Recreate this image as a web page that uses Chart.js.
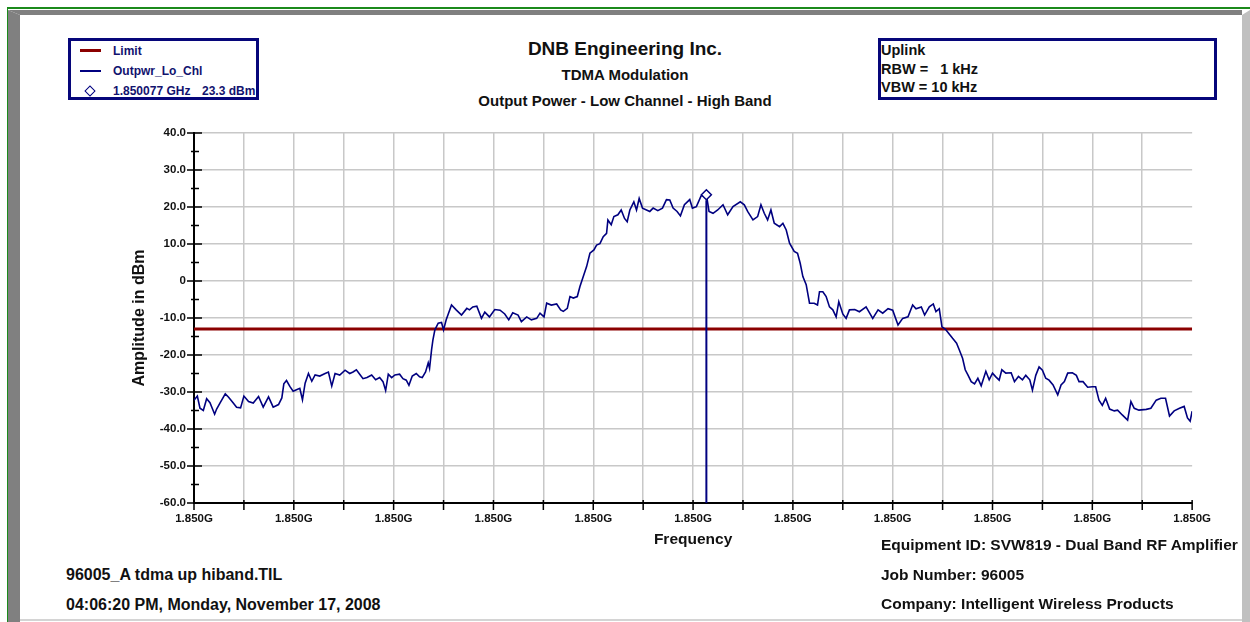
<!DOCTYPE html>
<html>
<head>
<meta charset="utf-8">
<script src="https://cdn.jsdelivr.net/npm/chart.js@4.4.1/dist/chart.umd.min.js"></script>
<style>
    body { margin: 0; width: 1250px; height: 622px; position: relative; overflow: hidden; background: #fff;
           font-family: "Liberation Sans", Arial, sans-serif; font-weight: bold; color: #111; }
    .abs { position: absolute; white-space: pre; line-height: 1; }
    .fr { position: absolute; }
    .box { position: absolute; box-sizing: border-box; border: 3px solid #06067a; }
    .center { left: 0; width: 1250px; text-align: center; }
    .leg { color: #12126e; font-size: 12px; }
    #chartWrap { position: absolute; left: 126px; top: 120px; }
</style>
</head>
<body>

<!-- window frame -->
<div class="fr" style="left:7px;top:7px;width:1243px;height:2px;background:#1b8a1b"></div>
<div class="fr" style="left:7px;top:7px;width:1px;height:615px;background:#1b8a1b"></div>
<div class="fr" style="left:8px;top:10px;width:1234px;height:5px;background:#808080;clip-path:polygon(0 0,100% 0,100% 100%,12px 100%)"></div>
<div class="fr" style="left:8px;top:10px;width:12px;height:612px;background:#808080;clip-path:polygon(0 0,100% 5px,100% 100%,0 100%)"></div>
<div class="fr" style="left:1242px;top:10px;width:8px;height:612px;background:#c0c0c0;clip-path:polygon(0 5px,100% 0,100% 100%,0 100%)"></div>
<div class="fr" style="left:20px;top:619px;width:1222px;height:2px;background:#d4d4d4"></div>

<!-- titles -->
<div class="abs center" style="top:39px;font-size:19px">DNB Engineering Inc.</div>
<div class="abs center" style="top:67px;font-size:15px">TDMA Modulation</div>
<div class="abs center" style="top:93px;font-size:15px">Output Power - Low Channel - High Band</div>

<!-- legend -->
<div class="box" style="left:68px;top:38px;width:191px;height:62px"></div>
<div class="fr" style="left:80px;top:49px;width:21px;height:3px;background:#8b0000"></div>
<div class="abs leg" style="left:113px;top:45px">Limit</div>
<div class="fr" style="left:80px;top:70px;width:21px;height:1.5px;background:#000080"></div>
<div class="abs leg" style="left:113px;top:65px">Outpwr_Lo_Chl</div>
<div class="fr" style="left:85.5px;top:86.5px;width:6px;height:6px;border:1.5px solid #000080;transform:rotate(45deg)"></div>
<div class="abs leg" id="markerFreq" style="left:113px;top:85px"></div>
<div class="abs leg" id="markerAmp" style="left:202px;top:85px"></div>

<!-- settings box -->
<div class="box" style="left:878px;top:38px;width:339px;height:62px"></div>
<div class="abs" style="left:881px;top:43px;font-size:14.5px">Uplink</div>
<div class="abs" style="left:881px;top:62px;font-size:14.5px">RBW =   1 kHz</div>
<div class="abs" style="left:881px;top:80px;font-size:14.5px">VBW = 10 kHz</div>

<div id="chartWrap"><canvas id="spectrumChart" width="1087" height="433" style="width:1087px;height:433px"></canvas></div>

<!-- footer -->
<div class="abs" style="left:881px;top:537px;font-size:15.5px">Equipment ID: SVW819 - Dual Band RF Amplifier</div>
<div class="abs" style="left:881px;top:567px;font-size:15.5px">Job Number: 96005</div>
<div class="abs" style="left:881px;top:596px;font-size:15.5px">Company: Intelligent Wireless Products</div>
<div class="abs" style="left:66px;top:567px;font-size:16px">96005_A tdma up hiband.TIL</div>
<div class="abs" style="left:66px;top:597px;font-size:16px">04:06:20 PM, Monday, November 17, 2008</div>

<script>
const START_GHZ = 1.850000;
const SPAN_KHZ = 150;
const LIMIT_DBM = -13;
const MARKER_KHZ = 77;
const MARKER_DBM = 23.3;

// frequency offsets from START_GHZ in kHz
const FREQ_KHZ = [0.0,0.5,0.9,1.4,1.9,2.4,3.1,3.4,3.9,4.7,5.2,5.9,6.4,7.0,7.5,8.2,8.9,9.7,10.4,11.2,
    11.9,12.7,13.2,13.5,13.9,14.4,14.9,15.4,15.9,16.3,16.7,17.2,17.7,18.2,18.9,19.7,20.2,20.7,21.2,21.9,
    22.7,23.4,23.9,24.4,24.9,25.4,26.0,26.7,27.3,27.9,28.4,28.8,29.2,29.7,30.2,30.9,31.4,31.9,32.3,32.8,
    33.4,33.9,34.3,34.8,35.2,35.4,35.7,35.9,36.2,36.7,37.2,37.5,37.9,38.7,39.4,40.2,41.0,41.4,41.9,42.5,
    43.2,43.7,44.4,45.2,46.0,46.7,47.3,47.9,48.7,49.2,50.0,50.7,51.5,52.0,52.6,53.0,53.7,54.5,55.1,55.5,
    56.1,56.5,57.0,57.6,58.0,58.5,59.0,59.5,60.1,60.5,61.0,61.5,62.0,62.2,62.7,63.1,63.7,64.2,64.7,65.1,
    65.5,66.1,66.5,66.9,67.4,68.0,68.5,69.0,69.7,70.4,71.0,71.5,72.0,72.6,73.1,73.7,74.5,74.9,75.5,76.2,
    77.0,77.4,78.0,78.7,79.5,80.2,81.0,82.1,82.7,83.2,84.0,84.7,85.2,85.7,86.2,86.7,87.2,88.0,88.5,89.0,
    89.5,90.2,90.7,91.1,91.5,92.0,92.5,93.2,93.7,94.0,94.5,95.0,95.5,96.0,96.5,96.9,97.5,98.0,98.5,99.3,
    100.0,101.0,102.0,102.8,103.5,104.3,105.0,105.8,106.5,107.3,108.0,108.5,109.3,109.8,110.5,111.1,111.5,112.0,112.4,112.9,
    113.4,114.0,114.6,115.0,115.5,115.9,116.3,116.8,117.3,117.8,118.3,119.0,119.5,120.0,120.5,121.0,121.4,122.0,122.8,123.3,
    123.9,124.5,125.0,125.6,126.0,126.5,127.0,127.5,128.0,128.5,129.1,129.8,130.3,130.8,131.3,132.0,132.6,133.0,133.6,134.3,
    135.0,135.5,136.0,136.5,137.0,137.6,138.3,138.8,139.5,140.3,140.8,141.3,142.0,143.1,143.8,144.6,145.3,146.0,146.6,147.3,
    148.1,148.8,149.3,149.7,150.0];

const AMPL_DBM = [-32.2,-31.1,-34.4,-35.0,-31.8,-32.9,-36.0,-34.6,-33.0,-30.5,-31.4,-33.0,-34.1,-34.3,-31.1,-32.6,-33.0,-31.2,-34.1,-31.3,
    -34.1,-33.4,-31.6,-27.8,-26.9,-28.5,-29.8,-29.4,-29.0,-32.1,-27.6,-25.0,-27.1,-25.4,-25.7,-25.0,-24.6,-28.4,-25.0,-25.4,
    -24.1,-25.0,-24.6,-24.0,-25.2,-26.4,-26.1,-25.4,-26.7,-26.1,-27.2,-29.6,-25.2,-26.1,-25.4,-25.2,-26.4,-26.8,-28.2,-25.7,
    -25.0,-25.9,-26.1,-24.6,-22.1,-23.6,-18.6,-16.0,-13.2,-11.4,-11.2,-13.2,-10.5,-6.5,-7.8,-9.2,-7.4,-7.8,-7.0,-6.8,
    -10.1,-8.4,-9.7,-7.7,-7.9,-8.9,-10.5,-8.6,-9.2,-11.0,-9.7,-10.5,-10.1,-8.7,-9.7,-6.0,-6.5,-6.2,-7.8,-8.2,
    -7.4,-4.2,-4.6,-4.2,-1.5,1.2,3.9,7.5,8.4,9.7,10.1,12.0,12.9,16.5,15.2,17.4,17.9,19.2,16.9,16.0,
    19.2,21.4,19.2,22.3,19.7,19.2,18.8,19.7,19.0,19.7,22.0,21.9,19.7,18.8,17.6,20.6,22.0,19.7,20.1,23.0,
    23.3,18.8,18.3,19.2,20.6,17.9,20.1,21.4,20.6,18.8,16.5,17.4,20.6,18.3,16.5,19.2,15.6,14.7,15.6,13.8,
    10.2,8.0,7.5,4.8,1.2,-1.0,-6.0,-6.0,-6.5,-2.9,-2.9,-4.2,-7.0,-7.8,-9.7,-5.6,-8.9,-10.1,-7.8,-7.7,
    -8.3,-7.0,-10.1,-7.8,-8.7,-7.5,-7.9,-11.9,-10.1,-9.7,-6.5,-7.5,-7.0,-9.2,-7.0,-6.2,-8.3,-7.5,-12.4,-13.0,
    -14.1,-15.5,-16.8,-18.6,-20.9,-24.0,-25.4,-27.2,-27.8,-26.3,-28.3,-24.4,-26.7,-24.9,-25.9,-26.8,-24.0,-24.9,-24.8,-27.2,
    -25.8,-26.7,-25.5,-26.7,-29.5,-25.5,-23.2,-24.1,-26.3,-26.8,-28.1,-30.8,-28.1,-27.2,-24.9,-24.8,-25.5,-27.2,-27.2,-28.7,
    -28.6,-28.6,-32.2,-33.6,-31.7,-34.6,-35.1,-34.9,-36.2,-37.6,-32.6,-34.4,-34.9,-34.7,-34.4,-32.2,-31.7,-31.7,-36.5,-35.1,
    -34.4,-33.9,-37.0,-37.9,-35.2];

const Y_MIN = -60, Y_MAX = 40;
const TRACE_COLOR = '#000080';
const LIMIT_COLOR = '#8b0000';
const GRID_COLOR = '#c8c8c8';

document.getElementById('markerFreq').textContent = (START_GHZ + MARKER_KHZ / 1e6).toFixed(6) + ' GHz';
document.getElementById('markerAmp').textContent = MARKER_DBM.toFixed(1) + ' dBm';

const tickFont = { family: '"Liberation Sans", Arial, sans-serif', size: 11.5, weight: 'bold' };
const titleFont = { family: '"Liberation Sans", Arial, sans-serif', weight: 'bold' };

// tick marks that cross the axis lines, like the analyzer printout
const crossTicks = {
    id: 'crossTicks',
    afterDraw(chart) {
        const ctx = chart.ctx, xs = chart.scales.x, ys = chart.scales.y;
        const area = chart.chartArea;
        ctx.save();
        ctx.strokeStyle = '#000';
        ctx.lineWidth = 1.5;
        ctx.beginPath();
        ys.ticks.forEach(t => {
            const y = ys.getPixelForValue(t.value);
            const major = t.value % 10 === 0;
            ctx.moveTo(area.left - (major ? 7 : 3), y);
            ctx.lineTo(area.left + (major ? 8 : 5), y);
        });
        xs.ticks.forEach(t => {
            const x = xs.getPixelForValue(t.value);
            ctx.moveTo(x, area.bottom - 3);
            ctx.lineTo(x, area.bottom + 7);
        });
        ctx.stroke();
        ctx.restore();
    }
};

new Chart(document.getElementById('spectrumChart'), {
    type: 'line',
    data: {
        datasets: [
            { label: 'Marker', data: [{ x: MARKER_KHZ, y: MARKER_DBM }],
              showLine: false, pointStyle: 'rectRot', pointRadius: 5, borderWidth: 1.5,
              borderColor: TRACE_COLOR, backgroundColor: '#fff' },
            { label: 'Marker line', data: [{ x: MARKER_KHZ, y: MARKER_DBM - 1.5 }, { x: MARKER_KHZ, y: Y_MIN }],
              borderColor: TRACE_COLOR, borderWidth: 2, pointRadius: 0 },
            { label: 'Outpwr_Lo_Chl', data: FREQ_KHZ.map((f, i) => ({ x: f, y: AMPL_DBM[i] })),
              borderColor: TRACE_COLOR, borderWidth: 1.6, pointRadius: 0, tension: 0 },
            { label: 'Limit', data: [{ x: 0, y: LIMIT_DBM }, { x: SPAN_KHZ, y: LIMIT_DBM }],
              borderColor: LIMIT_COLOR, borderWidth: 3, pointRadius: 0 }
        ]
    },
    options: {
        responsive: false,
        animation: false,
        layout: { padding: { top: 13, right: 20, left: 0, bottom: 0 } },
        plugins: { legend: { display: false }, tooltip: { enabled: false } },
        scales: {
            x: {
                type: 'linear', min: 0, max: SPAN_KHZ,
                afterFit: s => { s.height = 50; },
                border: { color: '#000', width: 2 },
                grid: {
                    color: c => c.index === 0 || c.tick.value === SPAN_KHZ ? 'rgba(0,0,0,0)' : GRID_COLOR,
                    lineWidth: 1.5, tickColor: 'rgba(0,0,0,0)', tickLength: 7
                },
                ticks: {
                    stepSize: 7.5, autoSkip: false, maxRotation: 0, padding: 2, color: '#111', font: tickFont,
                    callback: (v, i) => i % 2 === 0 ? (START_GHZ + v / 1e6).toFixed(3) + 'G' : ''
                },
                title: { display: true, text: 'Frequency', color: '#111', padding: { top: 0, bottom: 4 },
                         font: Object.assign({ size: 15.5 }, titleFont) }
            },
            y: {
                min: Y_MIN, max: Y_MAX,
                afterFit: s => { s.width = 68; },
                border: { color: '#000', width: 2 },
                grid: {
                    color: c => c.tick.value % 10 === 0 && c.tick.value !== Y_MIN ? GRID_COLOR : 'rgba(0,0,0,0)',
                    lineWidth: 1.5, tickColor: 'rgba(0,0,0,0)', tickLength: 7
                },
                ticks: {
                    stepSize: 5, autoSkip: false, padding: 1, color: '#111', font: tickFont,
                    callback: v => v % 10 !== 0 ? '' : (v === 0 ? '0' : v.toFixed(1))
                },
                title: { display: true, text: 'Amplitude in dBm', color: '#111', padding: { top: 4, bottom: 0 },
                         font: Object.assign({ size: 16 }, titleFont) }
            }
        }
    },
    plugins: [crossTicks]
});
</script>
</body>
</html>
